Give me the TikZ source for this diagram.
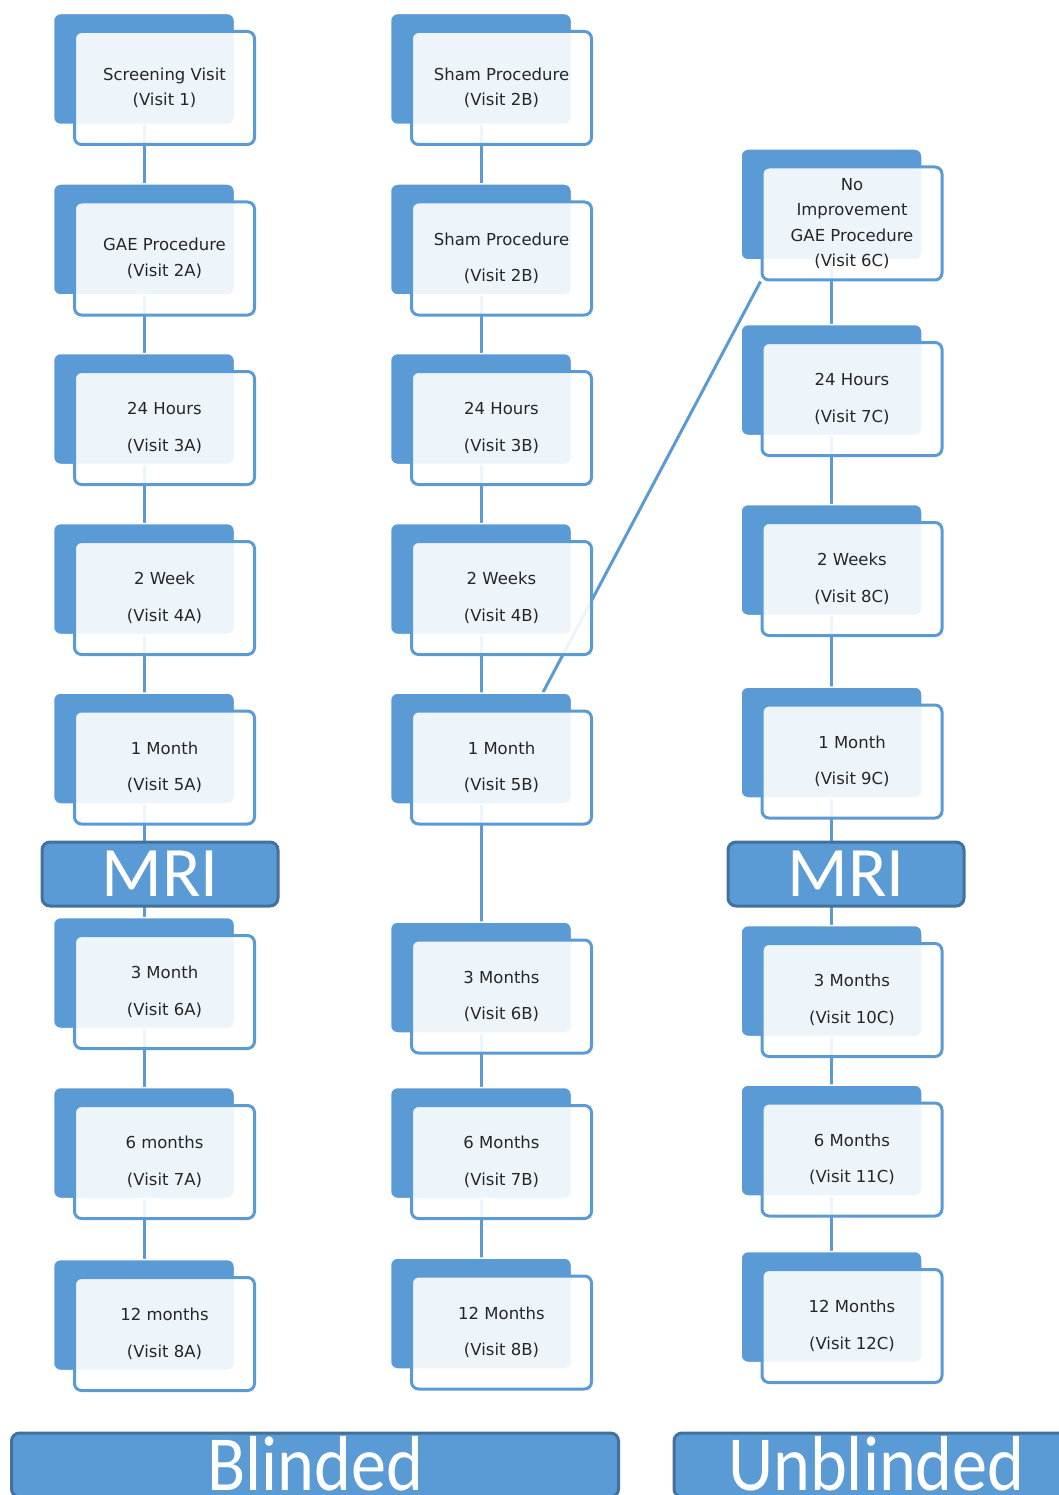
\documentclass[tikz,border=0pt]{standalone}
\usepackage{fontspec}
\setmainfont{DejaVu Sans}
\newfontfamily\bannerfont{Carlito}
\newfontfamily\narrowfont[FakeStretch=0.9]{Carlito}
\usetikzlibrary{calc}
\definecolor{visitBlue}{HTML}{5B9BD5}
\definecolor{visitDark}{HTML}{41719C}
\pgfdeclarelayer{bg}
\pgfsetlayers{bg,main}

\begin{document}
\begin{tikzpicture}
[x=1pt,y=-1pt,
  backDecorate/.style={shape=rectangle,rounded corners=7pt,fill=visitBlue,draw=white,
    line width=1.5pt,minimum width=181pt,minimum height=111pt},
  frontDecorate/.style={shape=rectangle,rounded corners=7pt,fill=white,fill opacity=0.9,
    text opacity=1,draw=visitBlue,line width=3pt,minimum width=180pt,minimum height=113pt,
    align=center,text=black!85,font=\fontsize{16.5}{25.5}\selectfont},
  mriDecorate/.style={shape=rectangle,rounded corners=8pt,fill=visitBlue,draw=visitDark,
    line width=3pt,minimum width=236pt,minimum height=64pt,inner sep=0pt,text=white,
    font=\bannerfont\fontsize{71}{71}\selectfont},
  bannerDecorate/.style={shape=rectangle,rounded corners=8pt,fill=visitBlue,draw=visitDark,
    line width=3pt,minimum height=64pt,inner sep=0pt,text=white,text height=50pt,
    text depth=0pt,font=\narrowfont\fontsize{78}{78}\selectfont},
  lineDecorate/.style={-,visitBlue,line width=3pt}]
\useasboundingbox (0,0) rectangle (1059,1495);
%% visit boxes
\foreach \nodename/\x/\y/\nodetext in {
  a1/164.5/88/{Screening Visit\\(Visit 1)},
  a2/164.5/258.5/{GAE Procedure\\(Visit 2A)},
  a3/164.5/428/{24 Hours\\[11pt](Visit 3A)},
  a4/164.5/598/{2 Week\\[11pt](Visit 4A)},
  a5/164.5/767.5/{1 Month\\[11pt](Visit 5A)},
  a6/164.5/992/{3 Month\\[11pt](Visit 6A)},
  a7/164.5/1162/{6 months\\[11pt](Visit 7A)},
  a8/164.5/1334/{12 months\\[11pt](Visit 8A)},
  b1/501.5/88/{Sham Procedure\\(Visit 2B)},
  b2/501.5/258.5/{Sham Procedure\\[11pt](Visit 2B)},
  b3/501.5/428/{24 Hours\\[11pt](Visit 3B)},
  b4/501.5/598/{2 Weeks\\[11pt](Visit 4B)},
  b5/501.5/767.5/{1 Month\\[11pt](Visit 5B)},
  b6/501.5/996.5/{3 Months\\[11pt](Visit 6B)},
  b7/501.5/1162/{6 Months\\[11pt](Visit 7B)},
  b8/501.5/1332.5/{12 Months\\[11pt](Visit 8B)},
  c1/852/223.5/{No\\Improvement\\GAE Procedure\\(Visit 6C)},
  c2/852/399/{24 Hours\\[11pt](Visit 7C)},
  c3/852/579/{2 Weeks\\[11pt](Visit 8C)},
  c4/852/761.5/{1 Month\\[11pt](Visit 9C)},
  c5/852/1000/{3 Months\\[11pt](Visit 10C)},
  c6/852/1159.5/{6 Months\\[11pt](Visit 11C)},
  c7/852/1326/{12 Months\\[11pt](Visit 12C)}}
{
  \node (\nodename bk) at (\x-20.5,\y-19) [backDecorate] {};
  \node (\nodename) at (\x,\y) [frontDecorate] {\nodetext};
}
%% MRI bars and arm banners
\node (mriA) at (160,874) [mriDecorate] {MRI};
\node (mriC) at (846,874) [mriDecorate] {MRI};
\node (blinded) at (315,1465) [bannerDecorate,minimum width=607pt] {Blinded};
\node (unblinded) at (876.5,1465) [bannerDecorate,minimum width=405pt] {Unblinded};
%% links
\begin{pgfonlayer}{bg}
\path
\foreach \startbox/\endbox in {
  a1/a2, a2/a3, a3/a4, a4/a5, a5/a6, a6/a7, a7/a8,
  b1/b2, b2/b3, b3/b4, b4/b5, b5/b6, b6/b7, b7/b8,
  c1/c2, c2/c3, c3/c4, c4/c5, c5/c6, c6/c7}
{
  (\startbox bk.center) edge[lineDecorate] (\endbox bk.center)
};
\draw[lineDecorate] (c1.south west) -- ($(b5bk.north)!0.68!(b5bk.north east)$);
\end{pgfonlayer}
\end{tikzpicture}
\end{document}
